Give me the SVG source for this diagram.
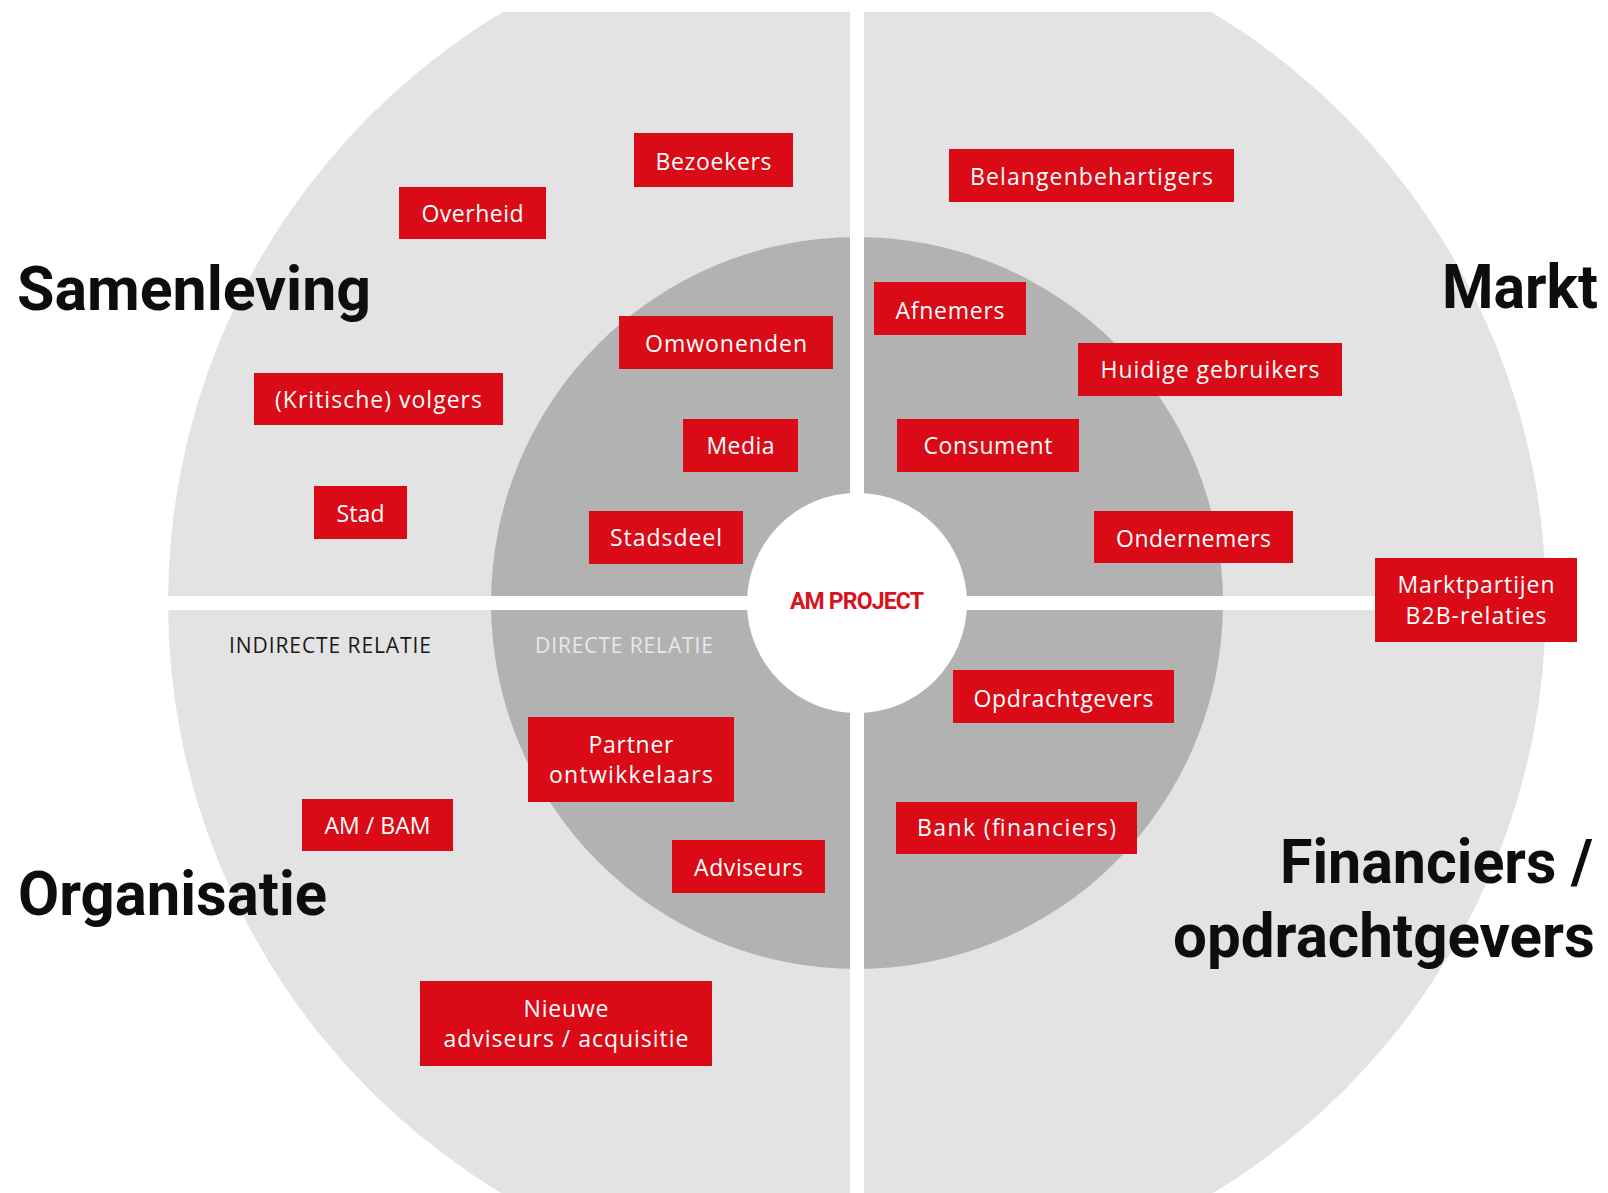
<svg xmlns="http://www.w3.org/2000/svg" width="1608" height="1193" viewBox="0 0 1608 1193">
  <defs>
    <clipPath id="topclip"><rect x="0" y="12" width="1608" height="1181"/></clipPath>
    <style>
      .box { fill: #da0a16; }
      .bt { fill: #ffffff; font-family: "Open Sans", "Noto Sans", "Liberation Sans", sans-serif; font-size: 23px; font-weight: 500; text-anchor: middle; }
      .big { fill: #0d0d0d; font-family: Roboto, "Liberation Sans", sans-serif; font-size: 62px; font-weight: 700; }
      .rel { font-family: "Open Sans", "Noto Sans", "Liberation Sans", sans-serif; font-size: 21px; font-weight: 500; }
    </style>
  </defs>
  <rect width="1608" height="1193" fill="#ffffff"/>
  <g id="rings">
    <circle cx="857" cy="603" r="689" fill="#e3e3e3" clip-path="url(#topclip)"/>
    <circle cx="857" cy="603" r="366" fill="#b2b2b2"/>
    <rect x="850" y="0" width="14" height="1193" fill="#ffffff"/>
    <rect x="0" y="596" width="1608" height="14" fill="#ffffff"/>
    <circle cx="857" cy="603" r="110" fill="#ffffff"/>
  </g>
  <g id="labels">
    <text class="big" x="17" y="310" textLength="354" lengthAdjust="spacingAndGlyphs">Samenleving</text>
    <text class="big" x="1442" y="308" textLength="156" lengthAdjust="spacingAndGlyphs">Markt</text>
    <text class="big" x="18" y="915" textLength="309" lengthAdjust="spacingAndGlyphs">Organisatie</text>
    <text class="big" x="1280" y="883" textLength="313" lengthAdjust="spacingAndGlyphs">Financiers /</text>
    <text class="big" x="1173" y="957" textLength="422" lengthAdjust="spacingAndGlyphs">opdrachtgevers</text>
    <text class="rel" x="229" y="653" textLength="202" fill="#1a1a1a">INDIRECTE RELATIE</text>
    <text class="rel" x="535" y="653" textLength="178" fill="#e8e8e8">DIRECTE RELATIE</text>
  </g>
  <g id="center">
    <text x="857" y="609" text-anchor="middle" textLength="134" fill="#d7141e" font-family="Roboto, 'Liberation Sans', sans-serif" font-size="23" font-weight="700">AM PROJECT</text>
  </g>
  <g id="connectors"></g>
  <g id="n-bezoekers"><rect class="box" x="634" y="133" width="159" height="54"/><text class="bt" x="713.5" y="170" textLength="116">Bezoekers</text></g>
  <g id="n-overheid"><rect class="box" x="399" y="187" width="147" height="52"/><text class="bt" x="472.5" y="222" textLength="102">Overheid</text></g>
  <g id="n-omwonenden"><rect class="box" x="619" y="316" width="214" height="53"/><text class="bt" x="726" y="352" textLength="162">Omwonenden</text></g>
  <g id="n-volgers"><rect class="box" x="254" y="373" width="249" height="52"/><text class="bt" x="378.5" y="408" textLength="207">(Kritische) volgers</text></g>
  <g id="n-media"><rect class="box" x="683" y="419" width="115" height="53"/><text class="bt" x="740.5" y="454" textLength="68">Media</text></g>
  <g id="n-stad"><rect class="box" x="314" y="486" width="93" height="53"/><text class="bt" x="360.5" y="521.5" textLength="48">Stad</text></g>
  <g id="n-stadsdeel"><rect class="box" x="589" y="511" width="154" height="53"/><text class="bt" x="666" y="546" textLength="112">Stadsdeel</text></g>
  <g id="n-belangenbehartigers"><rect class="box" x="949" y="149" width="285" height="53"/><text class="bt" x="1091.5" y="185" textLength="243">Belangenbehartigers</text></g>
  <g id="n-afnemers"><rect class="box" x="874" y="282" width="152" height="53"/><text class="bt" x="950" y="319" textLength="109">Afnemers</text></g>
  <g id="n-huidige"><rect class="box" x="1078" y="343" width="264" height="53"/><text class="bt" x="1210" y="378" textLength="219">Huidige gebruikers</text></g>
  <g id="n-consument"><rect class="box" x="897" y="419" width="182" height="53"/><text class="bt" x="988" y="454" textLength="129">Consument</text></g>
  <g id="n-ondernemers"><rect class="box" x="1094" y="511" width="199" height="52"/><text class="bt" x="1193.5" y="547" textLength="155">Ondernemers</text></g>
  <g id="n-marktpartijen"><rect class="box" x="1375" y="558" width="202" height="84"/><text class="bt" x="1476" y="593" textLength="157">Marktpartijen</text><text class="bt" x="1476" y="624" textLength="141">B2B-relaties</text></g>
  <g id="n-opdrachtgevers"><rect class="box" x="953" y="670" width="221" height="53"/><text class="bt" x="1063.5" y="707" textLength="180">Opdrachtgevers</text></g>
  <g id="n-bank"><rect class="box" x="896" y="802" width="241" height="52"/><text class="bt" x="1016.5" y="836" textLength="199">Bank (financiers)</text></g>
  <g id="n-partner"><rect class="box" x="528" y="717" width="206" height="85"/><text class="bt" x="631" y="753" textLength="85">Partner</text><text class="bt" x="631" y="783" textLength="164">ontwikkelaars</text></g>
  <g id="n-ambam"><rect class="box" x="302" y="799" width="151" height="52"/><text class="bt" x="377.5" y="834" textLength="106">AM / BAM</text></g>
  <g id="n-adviseurs"><rect class="box" x="672" y="840" width="153" height="53"/><text class="bt" x="748.5" y="876" textLength="109">Adviseurs</text></g>
  <g id="n-nieuwe"><rect class="box" x="420" y="981" width="292" height="85"/><text class="bt" x="566" y="1017" textLength="85">Nieuwe</text><text class="bt" x="566" y="1047" textLength="245">adviseurs / acquisitie</text></g>
</svg>
